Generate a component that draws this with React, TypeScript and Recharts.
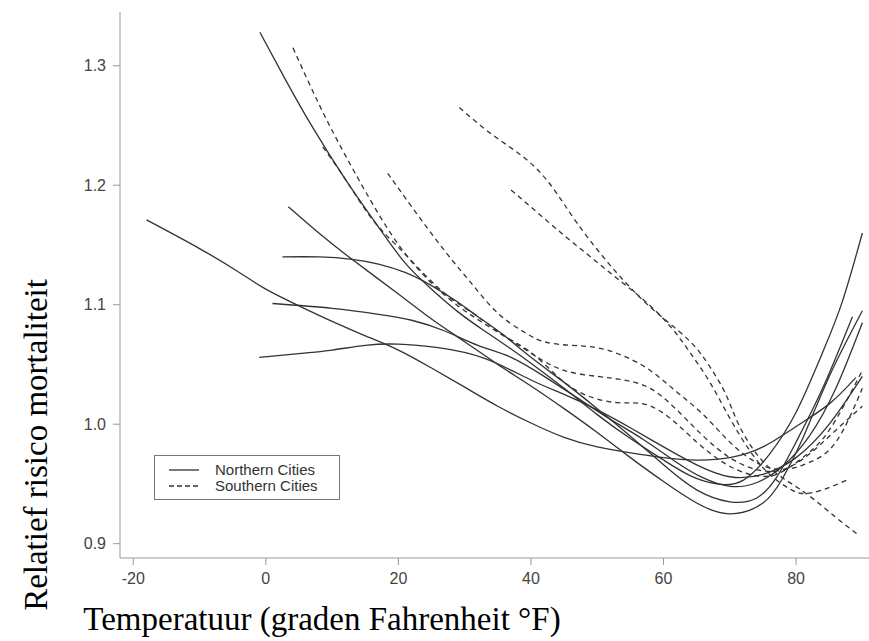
import React from 'react';
import { LineChart, Line, XAxis, YAxis, Label } from 'recharts';

// Temperature (°F) vs relative mortality risk, one curve per city
type Pt = { t: number; rr: number };

const xTicks = [-20, 0, 20, 40, 60, 80];
const yTicks = [0.9, 1.0, 1.1, 1.2, 1.3];

// Northern cities (solid)
const north1: Pt[] = [
  { t: -18, rr: 1.171 }, { t: -10, rr: 1.147 }, { t: -4, rr: 1.127 }, { t: 0, rr: 1.113 },
  { t: 5, rr: 1.099 }, { t: 10, rr: 1.086 }, { t: 15, rr: 1.074 }, { t: 20, rr: 1.062 },
  { t: 25, rr: 1.047 }, { t: 30, rr: 1.031 }, { t: 35, rr: 1.015 }, { t: 40, rr: 1.001 },
  { t: 45, rr: 0.989 }, { t: 50, rr: 0.981 }, { t: 55, rr: 0.976 }, { t: 60, rr: 0.972 },
  { t: 65, rr: 0.970 }, { t: 70, rr: 0.972 }, { t: 75, rr: 0.981 }, { t: 80, rr: 0.998 },
  { t: 85, rr: 1.017 }, { t: 89, rr: 1.039 },
];
const north2: Pt[] = [
  { t: -0.9, rr: 1.328 }, { t: 3, rr: 1.288 }, { t: 7, rr: 1.249 }, { t: 12, rr: 1.205 },
  { t: 17, rr: 1.165 }, { t: 21, rr: 1.135 }, { t: 25, rr: 1.113 }, { t: 29, rr: 1.094 },
  { t: 33, rr: 1.078 }, { t: 37, rr: 1.063 }, { t: 40, rr: 1.051 }, { t: 45, rr: 1.030 },
  { t: 50, rr: 1.008 }, { t: 55, rr: 0.988 }, { t: 60, rr: 0.970 }, { t: 64, rr: 0.957 },
  { t: 68, rr: 0.950 }, { t: 72, rr: 0.953 }, { t: 76, rr: 0.975 }, { t: 80, rr: 1.010 },
  { t: 84, rr: 1.060 }, { t: 87, rr: 1.103 }, { t: 90, rr: 1.160 },
];
const north3: Pt[] = [
  { t: 3.4, rr: 1.182 }, { t: 8, rr: 1.160 }, { t: 13, rr: 1.138 }, { t: 20, rr: 1.109 },
  { t: 25, rr: 1.088 }, { t: 30, rr: 1.069 }, { t: 35, rr: 1.050 }, { t: 40, rr: 1.032 },
  { t: 45, rr: 1.013 }, { t: 50, rr: 0.993 }, { t: 55, rr: 0.972 }, { t: 60, rr: 0.952 },
  { t: 65, rr: 0.934 }, { t: 70, rr: 0.925 }, { t: 75, rr: 0.934 }, { t: 78, rr: 0.955 },
  { t: 81, rr: 0.988 }, { t: 85, rr: 1.040 }, { t: 90, rr: 1.095 },
];
const north4: Pt[] = [
  { t: 2.5, rr: 1.140 }, { t: 8, rr: 1.140 }, { t: 13, rr: 1.138 }, { t: 17, rr: 1.134 },
  { t: 21, rr: 1.127 }, { t: 25, rr: 1.116 }, { t: 29, rr: 1.102 }, { t: 32, rr: 1.090 },
  { t: 36, rr: 1.074 }, { t: 40, rr: 1.056 }, { t: 45, rr: 1.035 }, { t: 50, rr: 1.013 },
  { t: 55, rr: 0.990 }, { t: 60, rr: 0.966 }, { t: 65, rr: 0.945 }, { t: 70, rr: 0.935 },
  { t: 74, rr: 0.938 }, { t: 77, rr: 0.955 }, { t: 80, rr: 0.985 }, { t: 84, rr: 1.030 },
  { t: 88.5, rr: 1.090 },
];
const north5: Pt[] = [
  { t: 1, rr: 1.101 }, { t: 10, rr: 1.097 }, { t: 17, rr: 1.092 }, { t: 22, rr: 1.087 },
  { t: 27, rr: 1.078 }, { t: 32, rr: 1.066 }, { t: 37, rr: 1.056 }, { t: 42, rr: 1.040 },
  { t: 47, rr: 1.022 }, { t: 52, rr: 1.004 }, { t: 57, rr: 0.987 }, { t: 62, rr: 0.968 },
  { t: 66, rr: 0.955 }, { t: 70, rr: 0.948 }, { t: 74, rr: 0.951 }, { t: 78, rr: 0.965 },
  { t: 82, rr: 0.990 }, { t: 86, rr: 1.030 }, { t: 90, rr: 1.085 },
];
const north6: Pt[] = [
  { t: -1, rr: 1.056 }, { t: 5, rr: 1.059 }, { t: 10, rr: 1.062 }, { t: 15, rr: 1.066 },
  { t: 20, rr: 1.067 }, { t: 26, rr: 1.064 }, { t: 33, rr: 1.055 }, { t: 40, rr: 1.037 },
  { t: 45, rr: 1.025 }, { t: 50, rr: 1.012 }, { t: 55, rr: 0.997 }, { t: 60, rr: 0.981 },
  { t: 65, rr: 0.966 }, { t: 70, rr: 0.956 }, { t: 75, rr: 0.958 }, { t: 80, rr: 0.972 },
  { t: 85, rr: 1.000 }, { t: 90, rr: 1.040 },
];

// Southern cities (dashed)
const south1: Pt[] = [
  { t: 4.1, rr: 1.315 }, { t: 8, rr: 1.268 }, { t: 12, rr: 1.225 }, { t: 17, rr: 1.176 },
  { t: 21, rr: 1.143 }, { t: 25, rr: 1.118 }, { t: 29, rr: 1.099 }, { t: 33, rr: 1.084 },
  { t: 37, rr: 1.070 }, { t: 41, rr: 1.056 }, { t: 45, rr: 1.045 }, { t: 50, rr: 1.040 },
  { t: 54, rr: 1.037 }, { t: 58, rr: 1.030 }, { t: 62, rr: 1.012 }, { t: 66, rr: 0.990 },
  { t: 70, rr: 0.972 }, { t: 74, rr: 0.962 }, { t: 78, rr: 0.962 }, { t: 82, rr: 0.975 },
  { t: 86, rr: 0.995 }, { t: 90, rr: 1.015 },
];
const south2: Pt[] = [
  { t: 8.6, rr: 1.232 }, { t: 12, rr: 1.205 }, { t: 16, rr: 1.172 }, { t: 20, rr: 1.148 },
  { t: 24, rr: 1.125 }, { t: 28, rr: 1.105 }, { t: 32, rr: 1.090 }, { t: 36, rr: 1.074 },
  { t: 40, rr: 1.060 }, { t: 44, rr: 1.040 }, { t: 48, rr: 1.025 }, { t: 53, rr: 1.018 },
  { t: 57, rr: 1.017 }, { t: 61, rr: 1.005 }, { t: 65, rr: 0.985 }, { t: 69, rr: 0.968 },
  { t: 73, rr: 0.958 }, { t: 77, rr: 0.958 }, { t: 81, rr: 0.972 }, { t: 85, rr: 0.995 },
  { t: 90, rr: 1.045 },
];
const south3: Pt[] = [
  { t: 18.4, rr: 1.210 }, { t: 22, rr: 1.182 }, { t: 27, rr: 1.145 }, { t: 31, rr: 1.118 },
  { t: 35, rr: 1.093 }, { t: 39, rr: 1.077 }, { t: 42, rr: 1.069 }, { t: 46, rr: 1.066 },
  { t: 50, rr: 1.064 }, { t: 54, rr: 1.057 }, { t: 58, rr: 1.045 }, { t: 62, rr: 1.027 },
  { t: 66, rr: 1.008 }, { t: 70, rr: 0.985 }, { t: 74, rr: 0.968 }, { t: 78, rr: 0.962 },
  { t: 82, rr: 0.968 }, { t: 86, rr: 0.985 }, { t: 90, rr: 1.030 },
];
const south4: Pt[] = [
  { t: 29.2, rr: 1.265 }, { t: 34, rr: 1.243 }, { t: 39, rr: 1.223 }, { t: 43, rr: 1.200 },
  { t: 47, rr: 1.168 }, { t: 51.8, rr: 1.134 }, { t: 55.4, rr: 1.112 }, { t: 58, rr: 1.098 },
  { t: 61, rr: 1.084 }, { t: 64.4, rr: 1.067 }, { t: 67, rr: 1.048 }, { t: 69.4, rr: 1.025 },
  { t: 71.4, rr: 0.999 }, { t: 74.5, rr: 0.972 }, { t: 78, rr: 0.955 }, { t: 82, rr: 0.940 },
  { t: 86, rr: 0.922 }, { t: 89.5, rr: 0.907 },
];
const south5: Pt[] = [
  { t: 37, rr: 1.196 }, { t: 41, rr: 1.177 }, { t: 45, rr: 1.158 }, { t: 49, rr: 1.140 },
  { t: 53, rr: 1.122 }, { t: 57, rr: 1.104 }, { t: 61, rr: 1.082 }, { t: 64, rr: 1.060 },
  { t: 67, rr: 1.035 }, { t: 70, rr: 1.005 }, { t: 73, rr: 0.978 }, { t: 76, rr: 0.958 },
  { t: 79, rr: 0.946 }, { t: 81, rr: 0.942 }, { t: 84, rr: 0.945 }, { t: 88, rr: 0.954 },
];

const northern = [north1, north2, north3, north4, north5, north6];
const southern = [south1, south2, south3, south4, south5];

const legendItems = [
  { name: 'Northern Cities', dash: undefined as string | undefined },
  { name: 'Southern Cities', dash: '5 3' },
];

const INK = '#333';
const AXIS = '#999';
const SANS = '"Liberation Sans", Arial, sans-serif';
const SERIF = '"Liberation Serif", "Times New Roman", serif';

// legend drawn as a plain overlay so it doesn't eat plot space
const LegendBox = () => (
  <div
    style={{
      position: 'absolute',
      left: 154,
      top: 455,
      width: 186,
      height: 45,
      border: '1px solid #777',
      background: '#fff',
      fontFamily: SANS,
      fontSize: 15,
      color: '#333',
      paddingTop: 6,
      boxSizing: 'border-box',
    }}
  >
    {legendItems.map((it) => (
      <div key={it.name} style={{ display: 'flex', alignItems: 'center', height: 16, lineHeight: '16px' }}>
        <svg width={60} height={16} style={{ flex: 'none' }}>
          <line x1={14} x2={44} y1={8} y2={8} stroke={INK} strokeWidth={1.3} strokeDasharray={it.dash} />
        </svg>
        <span>{it.name}</span>
      </div>
    ))}
  </div>
);

export default function App() {
  return (
    <div style={{ position: 'absolute', left: 0, top: 0, width: 869, height: 641, background: '#fff' }}>
      <LineChart width={869} height={641} margin={{ top: 12, right: 0, bottom: 0, left: 0 }}>
        <XAxis
          type="number"
          dataKey="t"
          domain={[-22, 91]}
          allowDataOverflow
          ticks={xTicks}
          height={83}
          stroke={AXIS}
          tickSize={7}
          tickMargin={8}
          tick={{ fill: '#444', fontSize: 16, fontFamily: SANS }}
        >
          <Label
            content={() => (
              <text x={322} y={630} textAnchor="middle" fontFamily={SERIF} fontSize={33} fill="#000">
                Temperatuur (graden Fahrenheit °F)
              </text>
            )}
          />
        </XAxis>
        <YAxis
          type="number"
          dataKey="rr"
          domain={[0.888, 1.345]}
          allowDataOverflow
          ticks={yTicks}
          width={120}
          stroke={AXIS}
          tickSize={7}
          tickMargin={7}
          tickFormatter={(v: number) => v.toFixed(1)}
          tick={{ fill: '#444', fontSize: 16, fontFamily: SANS }}
        >
          <Label
            content={() => (
              <text
                x={47}
                y={445}
                transform="rotate(-90, 47, 445)"
                textAnchor="middle"
                fontFamily={SERIF}
                fontSize={33}
                fill="#000"
              >
                Relatief risico mortaliteit
              </text>
            )}
          />
        </YAxis>
        {northern.map((d, i) => (
          <Line
            key={`n${i}`}
            data={d}
            dataKey="rr"
            type="natural"
            stroke={INK}
            strokeWidth={1.3}
            dot={false}
            activeDot={false}
            isAnimationActive={false}
          />
        ))}
        {southern.map((d, i) => (
          <Line
            key={`s${i}`}
            data={d}
            dataKey="rr"
            type="natural"
            stroke={INK}
            strokeWidth={1.3}
            strokeDasharray="5 4"
            dot={false}
            activeDot={false}
            isAnimationActive={false}
          />
        ))}
      </LineChart>
      <LegendBox />
    </div>
  );
}
